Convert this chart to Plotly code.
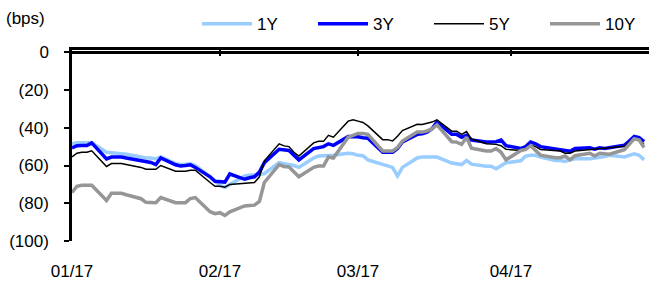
import pandas as pd
import plotly.graph_objects as go

dates = pd.bdate_range("2017-01-02", "2017-04-28")

y1 = [-48.5, -48, -48, -48, -48, -53, -53.3, -53.3, -53.5, -54, -55.5, -56, -56, -56.5, -55.5, -59, -59.5, -59.5, -59, -60, -66, -68.5,
      -70.5, -71.5, -70, -65.5, -65.2, -65.2, -64.8, -64.3, -58.5, -59, -59.5, -60, -61, -56, -55, -55, -54.8, -54.6, -53.5, -53.8,
      -54.6, -54.8, -57, -59.5, -60.5, -61, -65.5, -61, -56, -55.5, -55.5, -55.5, -55.5, -58.7, -59.2, -59.5, -57.3, -59.3, -60.4, -60.4, -61.7, -60, -58.5,
      -57.5, -55, -54.6, -54.6, -55.5, -57.3, -57.3, -57.8, -57, -56.4, -56.4, -56.1, -55.8, -55.2, -54.6, -55.5, -54.6, -53.8, -54.6, -57]
y3 = [-50.7, -49.5, -49.4, -49.4, -48, -56.5, -55.5, -55.5, -55.5, -56, -57.5, -58, -58.4, -59.5, -56, -59.6, -60.3, -60, -59.6, -61, -66, -68.4,
      -68.4, -68.8, -64.5, -67.3, -66.5, -66, -63.5, -58.5, -51.4, -51.7, -52, -54.5, -57, -51, -50.3, -50, -48.5, -49.3, -44.7, -44.6,
      -44.8, -45.3, -45.5, -53, -53, -53, -51, -47.5, -43.5, -43.2, -42.3, -40.5, -37, -43.5, -43.5, -45, -44, -46.5, -47.6, -47.6, -47.4, -46.5, -49.5,
      -51, -50, -47.5, -48.5, -50, -51.3, -51.6, -52.5, -52.5, -51, -50.6, -51.3, -50.6, -51, -50.5, -49.3, -47, -44.6, -45.2, -47.3]
y5 = [-55.5, -53.5, -53, -53, -52.2, -60.5, -59, -59, -59, -59.5, -61, -62, -62, -62, -60, -63, -63, -63, -62.5, -62.5, -69, -71,
      -71, -71.5, -70, -69.6, -69.2, -69, -66, -57.5, -48.5, -49.6, -50, -53, -55, -48, -47.2, -47.2, -44, -45, -36.5, -35.8,
      -36.5, -37.2, -39, -46.3, -46.3, -47, -44.5, -41.5, -38.2, -38.3, -37.6, -37, -35.8, -41.8, -41.8, -43.5, -42, -46, -48.5, -48.7, -48.8, -49.5, -51.4,
      -52, -51, -49.2, -50, -51.5, -52.3, -52.3, -53.5, -53.5, -52.3, -51.6, -51.6, -51, -51, -50.6, -49.8, -47.5, -45.8, -46.5, -48.8]
y10 = [-74.3, -71, -70.5, -70.5, -70.5, -78.5, -74.7, -74.7, -74.7, -75.5, -77.6, -79.5, -79.7, -79.7, -77, -79.7, -79.7, -79.7, -77.5, -77, -84.5, -85.5,
       -85, -86.5, -84.5, -81.4, -81.2, -81, -79, -69, -59.5, -60.5, -60.8, -63.5, -66, -61, -60.3, -60.3, -55.5, -56, -45, -44,
       -43, -43, -43.5, -52.3, -52.3, -52.3, -50.5, -47, -42.3, -42.3, -41.7, -40.6, -38.5, -47.4, -47.6, -48.8, -45, -50.8, -52.3, -52.3, -51, -53, -57,
       -52, -51.5, -49.5, -52, -54.5, -55.9, -55.9, -55, -57, -54.8, -53.5, -55, -53.5, -53.8, -54, -51.6, -49, -45.8, -46.5, -50.5]

names = ["1Y", "3Y", "5Y", "10Y"]
colors = ["#99CCFF", "#0000FF", "#000000", "#969696"]
widths = [3.5, 3.5, 1.5, 3.5]
# top axis (ticks) is x, bottom labels axis is x2; both share the same range
xrefs = ["x", "x", "x", "x2"]

x_ticks = ["2017-01-02", "2017-02-01", "2017-03-01", "2017-04-01", "2017-04-29"]
x_labels = ["01/17", "02/17", "03/17", "04/17", ""]
y_ticks = [0, -20, -40, -60, -80, -100]
y_labels = ["0", "(20)", "(40)", "(60)", "(80)", "(100)"]

fig = go.Figure()
for n, s, c, w, xa in zip(names, [y1, y3, y5, y10], colors, widths, xrefs):
    fig.add_trace(go.Scatter(x=dates, y=s, name=n, mode="lines", xaxis=xa, yaxis="y",
                             line=dict(color=c, width=w)))

font = dict(family="Liberation Sans, Arial, sans-serif", size=17, color="#000000")
lfont = dict(family="Liberation Sans, Arial, sans-serif", size=17, color="#000000")
xr = ["2017-01-02", "2017-04-29"]
fig.update_layout(
    width=666, height=287,
    margin=dict(l=72, r=17, t=50, b=46, autoexpand=False),
    paper_bgcolor="white", plot_bgcolor="white",
    font=font,
    showlegend=True,
    legend=dict(orientation="h", x=1.0208, xanchor="right", y=1.135, yanchor="middle",
                itemwidth=50, entrywidth=51, font=lfont, bgcolor="rgba(0,0,0,0)",
                tracegroupgap=0),
    xaxis=dict(type="date", range=xr, tickvals=x_ticks, ticktext=[""] * len(x_ticks),
               side="top", anchor="y",
               showline=True, linecolor="black", linewidth=2.5,
               ticks="inside", ticklen=6, tickwidth=2, tickcolor="black",
               showticklabels=True, tickfont=dict(size=2, color="rgba(0,0,0,0)"),
               showgrid=False, zeroline=False),
    xaxis2=dict(type="date", range=xr, tickvals=x_ticks, ticktext=x_labels,
                overlaying="x", anchor="y", side="bottom",
                showline=False, showgrid=False, zeroline=False, ticks="",
                ticklabelstandoff=18, tickfont=font),
    yaxis=dict(range=[-100, 1.2], tickvals=y_ticks, ticktext=y_labels,
               showline=True, linecolor="black", linewidth=2.5,
               ticks="outside", ticklen=5, tickwidth=2, tickcolor="black",
               showgrid=False, zeroline=True, zerolinecolor="black", zerolinewidth=2.7,
               ticklabelstandoff=12, tickfont=font),
    annotations=[dict(text="(bps)", xref="paper", yref="paper", x=-0.117, y=1.165,
                      xanchor="left", yanchor="middle", showarrow=False, font=lfont)],
)
fig.write_html("out.html", config={"displayModeBar": False},
               post_script="document.body.style.margin='0px';")
